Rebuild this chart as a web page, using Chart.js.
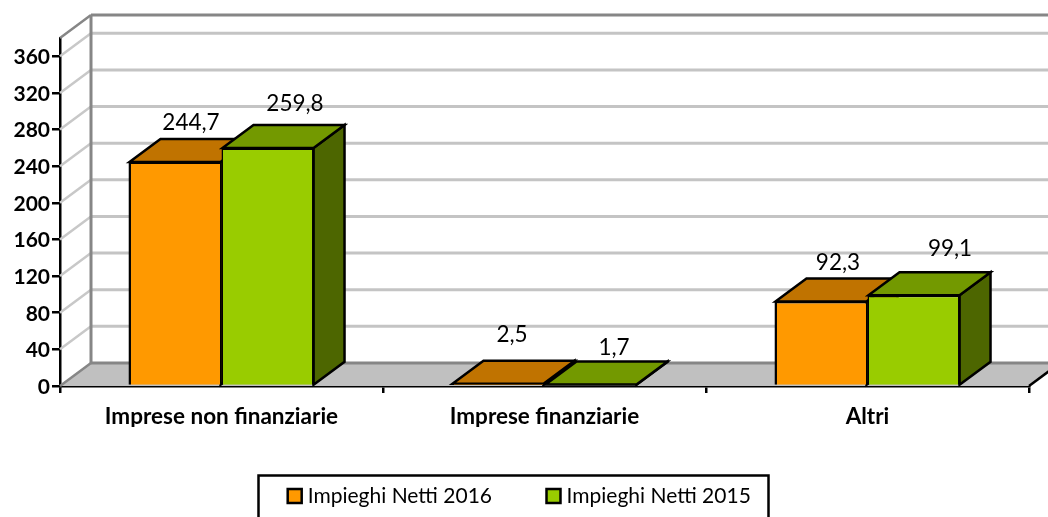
<!DOCTYPE html>
<html><head><meta charset="utf-8">
<style>html,body{margin:0;padding:0;background:#fff}canvas{display:block}</style>
<script src="https://cdn.jsdelivr.net/npm/chart.js@4"></script>
</head><body>
<canvas id="c" width="1048" height="517"></canvas>
<script>
const categories = ["Imprese non finanziarie", "Imprese finanziarie", "Altri"];
const seriesNames = ["Impieghi Netti 2016", "Impieghi Netti 2015"];
const values2016 = [244.7, 2.5, 92.3];
const values2015 = [259.8, 1.7, 99.1];

const DX = 31, DY = -23;
const FONT = "Lato";
const faces = [
  {front:"#FF9900", top:"#C07300", side:"#804C00"},
  {front:"#99CC00", top:"#739900", side:"#4D6600"}
];
// hand placement of value labels relative to each bar's top-centre
const labelShift = [
  [[16,-39],[14,-49],[17,-39]],
  [[27,-44],[23,-37],[36,-46]]
];

function line(ctx,x1,y1,x2,y2,color,w){
  ctx.strokeStyle=color;ctx.lineWidth=w;ctx.beginPath();ctx.moveTo(x1,y1);ctx.lineTo(x2,y2);ctx.stroke();
}
function poly(ctx,pts,fill,stroke,w){
  ctx.beginPath();pts.forEach((p,i)=>i?ctx.lineTo(p[0],p[1]):ctx.moveTo(p[0],p[1]));ctx.closePath();
  if(fill){ctx.fillStyle=fill;ctx.fill();}
  if(stroke){ctx.strokeStyle=stroke;ctx.lineWidth=w;ctx.lineJoin="miter";ctx.stroke();}
}

const box3d = {
  id:"box3d",
  beforeDatasetsDraw(chart){
    const ctx=chart.ctx, {left,right,top,bottom}=chart.chartArea, y=chart.scales.y;
    ctx.save();
    poly(ctx,[[left,bottom],[left+DX,bottom+DY],[right+DX,bottom+DY],[right,bottom]],"#C0C0C0");
    y.ticks.forEach(t=>{
      if(t.value===0) return;
      const p=y.getPixelForValue(t.value);
      line(ctx,left,p,left+DX,p+DY,"#C8C8C8",2.5);
      line(ctx,left+DX,p+DY,right+DX,p+DY,"#C4C4C4",3);
    });
    const G="#868686";
    line(ctx,left,top,left+DX,top+DY,G,2.5);
    line(ctx,left+DX,top+DY,right+DX,top+DY,G,3);
    line(ctx,left+DX,top+DY,left+DX,bottom+DY,G,3);
    line(ctx,left+DX,bottom+DY,right+DX,bottom+DY,G,3);
    line(ctx,left,bottom,left+DX,bottom+DY,G,2.5);
    line(ctx,right,bottom,right+DX,bottom+DY,"#000",2.5);
    const inset=1;
    chart.data.datasets.forEach((d,i)=>{
      chart.getDatasetMeta(i).data.forEach(b=>{
        const l=b.x-b.width/2+inset, r=b.x+b.width/2-inset, t=b.y, base=b.base;
        poly(ctx,[[r,t],[r+DX,t+DY],[r+DX,base+DY],[r,base]],faces[i].side,"#000",2.5);
        poly(ctx,[[l,t],[l+DX,t+DY],[r+DX,t+DY],[r,t]],faces[i].top,"#000",2.5);
      });
    });
    ctx.restore();
  },
  afterDraw(chart){
    const ctx=chart.ctx;
    ctx.save();
    ctx.font="22.5px "+FONT;ctx.fillStyle="#000";ctx.textAlign="center";ctx.textBaseline="middle";
    chart.data.datasets.forEach((d,i)=>{
      chart.getDatasetMeta(i).data.forEach((b,j)=>{
        const s=labelShift[i][j];
        ctx.fillText(String(d.data[j]).replace(".",","),b.x+s[0],b.y+s[1]);
      });
    });
    ctx.strokeStyle="#000";ctx.lineWidth=2.5;
    ctx.strokeRect(258.5,475.5,510,60);
    ctx.restore();
  },
  afterLayout(chart){
    const lg=chart.legend;
    lg.left+=7;lg.right+=7;
    lg.top=426.5;lg.bottom=517;
  }
};

new Chart(document.getElementById("c"),{
  type:"bar",
  data:{labels:categories,datasets:[
    {label:seriesNames[0],data:values2016,backgroundColor:faces[0].front,borderColor:"#000",
     borderWidth:{left:2.5,top:2,right:1.5,bottom:0}},
    {label:seriesNames[1],data:values2015,backgroundColor:faces[1].front,borderColor:"#000",
     borderWidth:{left:1.5,top:2,right:2.5,bottom:0}}
  ]},
  plugins:[box3d],
  options:{
    responsive:false,animation:false,
    devicePixelRatio:1,
    categoryPercentage:0.576,barPercentage:1,
    layout:{padding:{top:38,right:19,left:0,bottom:0}},
    plugins:{
      tooltip:{enabled:false},title:{display:false},
      legend:{display:true,position:"bottom",
        labels:{color:"#000",usePointStyle:true,pointStyle:"rect",boxWidth:5,boxHeight:14,padding:59,font:{family:FONT,size:21},
          generateLabels(chart){
            return Chart.defaults.plugins.legend.labels.generateLabels(chart).map(it=>Object.assign(it,{lineWidth:2.5,pointStyle:"rect"}));
          }}
      }
    },
    scales:{
      x:{
        grid:{drawOnChartArea:false,drawTicks:true,tickLength:7,color:"#000",lineWidth:2.5},
        border:{display:true,color:"#000",width:2.5},
        ticks:{color:"#000",font:{family:FONT,size:22.5,weight:"bold"},padding:10,maxRotation:0},
        afterFit(s){s.height=131-((s.chart.legend&&s.chart.legend.height)||0);}
      },
      y:{
        min:0,max:380,
        grid:{drawOnChartArea:false,drawTicks:true,tickLength:8,color:"#000",lineWidth:2.5},
        border:{display:true,color:"#000",width:2.5},
        ticks:{stepSize:40,includeBounds:false,color:"#000",font:{family:FONT,size:21,weight:"bold"},padding:2,labelOffset:1},
        afterFit(s){s.width=60;}
      }
    }
  }
});
</script>
</body></html>
